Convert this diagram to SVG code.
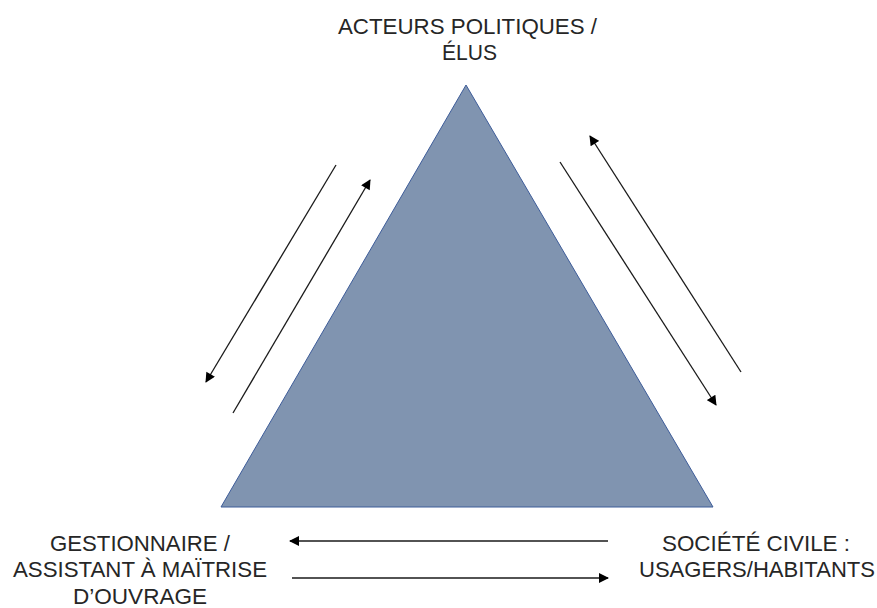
<svg xmlns="http://www.w3.org/2000/svg" width="877" height="608" viewBox="0 0 877 608">
<style>
.lbl{font-family:"Liberation Sans",Arial,sans-serif;font-size:22px;fill:#262626;text-anchor:middle}
.ln{stroke:#1a1a1a;stroke-width:1.3;fill:none;marker-end:url(#ah)}
</style>
<defs>
<marker id="ah" viewBox="0 0 10 10" refX="9" refY="5" markerWidth="11" markerHeight="10" markerUnits="userSpaceOnUse" orient="auto">
<path d="M0,0 L10,5 L0,10 z" fill="#000"/>
</marker>
</defs>
<rect width="877" height="608" fill="#fff"/>
<g id="triangle">
<polygon points="466,85 221,507 713,507" fill="#8094b0" stroke="#3d5c99" stroke-width="1"/>
</g>
<g id="node-elus">
<text class="lbl" x="467.5" y="34" textLength="259" lengthAdjust="spacingAndGlyphs">ACTEURS POLITIQUES /</text>
<text class="lbl" x="469.5" y="60" textLength="55" lengthAdjust="spacingAndGlyphs">ÉLUS</text>
</g>
<g id="node-gestionnaire">
<text class="lbl" x="140" y="551" textLength="180" lengthAdjust="spacingAndGlyphs">GESTIONNAIRE /</text>
<text class="lbl" x="140" y="577" textLength="254" lengthAdjust="spacingAndGlyphs">ASSISTANT À MAÏTRISE</text>
<text class="lbl" x="140" y="604" textLength="134" lengthAdjust="spacingAndGlyphs">D’OUVRAGE</text>
</g>
<g id="node-societe">
<text class="lbl" x="756" y="551" textLength="188" lengthAdjust="spacingAndGlyphs">SOCIÉTÉ CIVILE :</text>
<text class="lbl" x="757" y="577" textLength="236" lengthAdjust="spacingAndGlyphs">USAGERS/HABITANTS</text>
</g>
<g id="connectors">
<line class="ln" x1="336" y1="165" x2="206" y2="382"/>
<line class="ln" x1="233" y1="413" x2="370" y2="180"/>
<line class="ln" x1="560" y1="162" x2="716" y2="405"/>
<line class="ln" x1="741" y1="372" x2="590" y2="136"/>
<line class="ln" x1="608" y1="541" x2="290" y2="541"/>
<line class="ln" x1="292" y1="578" x2="608" y2="578"/>
</g>
</svg>
